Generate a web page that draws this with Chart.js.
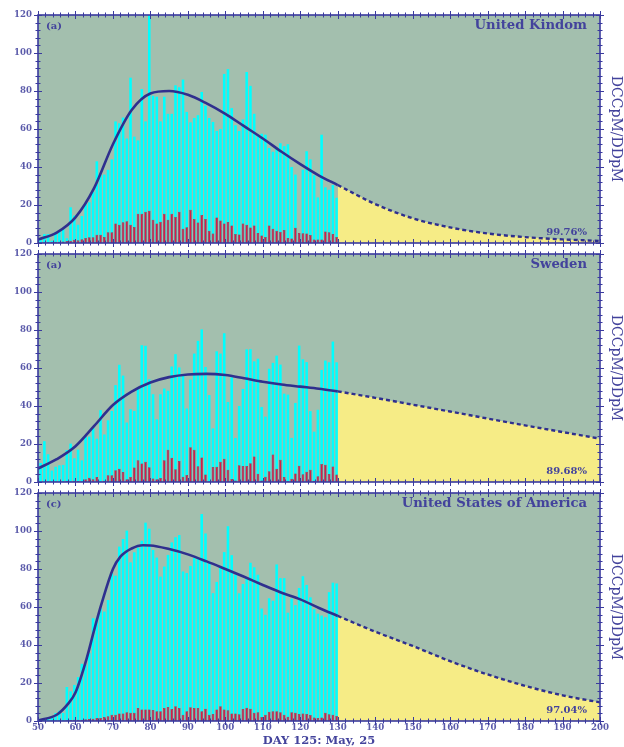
<!DOCTYPE html>
<html>
<head>
<meta charset="utf-8">
<script src="https://cdn.jsdelivr.net/npm/chart.js@4.4.1/dist/chart.umd.min.js"></script>
<style>
html,body{margin:0;padding:0;background:#ffffff;}
#wrap{position:relative;width:624px;height:747px;overflow:hidden;}
#wrap canvas{position:absolute;left:0;top:0;}
</style>
</head>
<body>
<div id="wrap">
<canvas id="c1" width="624" height="747"></canvas>
<canvas id="c2" width="624" height="747"></canvas>
<canvas id="c3" width="624" height="747"></canvas>
</div>
<script>
// ---------------- data ----------------
const days = [
  50,51,52,53,54,55,56,57,58,59,
  60,61,62,63,64,65,66,67,68,69,
  70,71,72,73,74,75,76,77,78,79,
  80,81,82,83,84,85,86,87,88,89,
  90,91,92,93,94,95,96,97,98,99,
  100,101,102,103,104,105,106,107,108,109,
  110,111,112,113,114,115,116,117,118,119,
  120,121,122,123,124,125,126,127,128,129,
  130];

// United Kingdom: DCCpM (cyan) and DDpM (red)
const ukCyan = [
  0.5, 1.5, 4.7, 4.7, 1.2, 5.4, 6, 7.7, 2.5, 18.8,
  14.4, 9.6, 14.2, 20.9, 21.4, 27, 43, 36, 36, 38.5,
  44, 64, 63, 66, 55, 87, 56, 54, 81, 64,
  120, 77.5, 77, 64, 77, 68, 68, 83, 82, 86,
  69, 63.5, 65.8, 67.3, 79.5, 72.3, 65.8, 63.7, 59, 60,
  89, 91.5, 71, 62, 59, 65, 90, 82.7, 68, 57,
  57.5, 57, 50, 48, 50.5, 52.5, 51, 52, 40, 36,
  5, 38.6, 48.3, 44, 35.6, 24, 57, 29.3, 28, 30.5,
  23.8];
const ukRed = [
  0, 0.3, 0.3, 0.4, 0.5, 0.7, 0.6, 0.8, 1, 1.2,
  1.7, 1.4, 2, 2.6, 3, 3, 4.4, 4.4, 3.2, 5.6,
  5.6, 10.2, 9.6, 10.9, 11.4, 9.6, 8.4, 15.4, 15.4, 16.5,
  17, 12.3, 10.2, 11.2, 15.4, 12.3, 15.4, 13.7, 16.5, 7.5,
  8.3, 17.5, 12.6, 10.8, 14.8, 12.6, 6.4, 5, 13.4, 11.8,
  10.2, 11.1, 9.2, 4.8, 4.5, 10.3, 9.6, 8.1, 9.2, 5.2,
  4, 3.2, 9.2, 7.5, 6.5, 5.9, 6.9, 2.6, 2.4, 8,
  5.3, 5.1, 5, 4.2, 1.8, 1.8, 1.9, 6, 5.6, 4.8,
  3.1];

// Sweden
const seCyan = [
  14.6, 10, 21.5, 14.6, 6, 8, 8.8, 9, 16.8, 20.2,
  12.5, 17, 11.4, 23.9, 23.9, 28.6, 22.8, 37.8, 25, 32.5,
  37.4, 51, 61.7, 56, 31.3, 38.3, 37.4, 48.9, 72, 71.7,
  54, 46.2, 33, 46.2, 49.2, 48, 60.8, 67.3, 60.3, 55.9,
  38.7, 53.9, 67.6, 74.3, 80.3, 60.5, 45.8, 28.2, 68.8, 67.6,
  78.3, 42.1, 55.1, 23.2, 40, 49, 69.8, 69.9, 63.5, 64.9,
  39.5, 34.4, 59.6, 62.7, 66.5, 61.8, 46.5, 46, 23.2, 41.6,
  71.8, 64.6, 63.1, 37.3, 26.5, 38, 59, 63.9, 63, 73.9,
  63];
const seRed = [
  0, 0, 0, 0.3, 0, 0.3, 0, 0.3, 0.5, 0.3,
  0.7, 0.5, 0.3, 1.4, 2.3, 1.4, 2.6, 0.2, 0.7, 3.5,
  3.5, 6.2, 7, 5.3, 1.4, 2.6, 7.6, 11.4, 9.7, 10.7,
  7.7, 1.8, 1.4, 2.1, 11.4, 17, 12.8, 6.7, 11, 2.8,
  3.7, 18.3, 17, 8.3, 12.9, 3.9, 0.3, 7.9, 8, 10.7,
  12.3, 6.5, 1.6, 0.8, 8.8, 8.4, 8.4, 9.9, 13.4, 4.3,
  0.8, 2.7, 5.6, 14.5, 7, 11.7, 2.6, 0.4, 1.7, 4.5,
  8.6, 4.1, 5.4, 6.5, 0.6, 3, 9.5, 9.1, 4.2, 8.1,
  4];

// United States of America
const usCyan = [
  0, 0.3, 0.7, 1.6, 2.5, 4.2, 5.4, 4.2, 17.9, 15.6,
  19, 23.1, 30.1, 29.6, 35.7, 54.1, 54.1, 59.4, 57.6, 63.7,
  77.8, 76.5, 91.8, 95.8, 100.2, 83.5, 88.8, 91.2, 94.9, 104.4,
  101.2, 90, 86, 76, 81.3, 87.4, 94, 96.7, 97.9, 78.7,
  77.9, 81.6, 85.7, 86, 108.9, 98.7, 83.1, 67.3, 73.2, 81.5,
  88.9, 102.5, 87.3, 77, 67.2, 72.1, 75.4, 83.3, 80.9, 77,
  59.2, 55.9, 64.6, 63.3, 82.4, 75.2, 75.2, 57, 64.4, 61,
  70, 76.2, 71.6, 65.1, 58.8, 56.5, 55.5, 54.6, 67.8, 72.8,
  72.4];
const usRed = [
  0, 0, 0.1, 0.1, 0.2, 0.2, 0.3, 0.3, 0.4, 0.5,
  0.6, 0.6, 0.7, 0.9, 1, 1.2, 1.6, 1.6, 2.1, 2.5,
  3.3, 3.3, 4, 4, 4.6, 4.4, 4.4, 6.8, 6, 6,
  6, 5.8, 5.1, 5.1, 6.8, 7.4, 6.3, 7.7, 6.8, 3.3,
  5.1, 7.2, 6.8, 6.8, 5.1, 6.5, 3.3, 3.7, 6.1, 7.7,
  6, 5.6, 4, 3.9, 3.5, 6.3, 7, 6.5, 4.4, 4.6,
  2.1, 3.3, 4.9, 5.1, 5.1, 4.6, 3.3, 2.3, 4.6, 4.4,
  3.7, 3.9, 3.7, 3.2, 1.9, 1.6, 1.9, 4.4, 3.5, 3.3,
  2.6];

// fitted curves (solid, to day 130) and projections (dashed, 130..200)
const fitDays   = [50,55,60,65,70,75,80,85,90,95,100,105,110,115,120,125,130];
const ukFit     = [1.8, 5.5, 13.5, 29, 52, 70, 78.7, 80, 78, 73.5, 68, 61.5, 55, 48, 41.5, 35.5, 30.5];
const seFit     = [7.1, 12, 18.8, 29.5, 40.5, 47.6, 52.4, 55.2, 56.6, 56.9, 56.3, 54.6, 52.8, 51.3, 50.2, 49.1, 47.7];
const usFitDays = [50,55,58,60,63,65,67,70,72,75,78,80,85,90,95,100,105,110,115,120,125,130];
const usFit     = [0.2, 3.3, 9, 15, 33, 48, 62, 80, 86.5, 90.8, 92.5, 92.4, 90.5, 87.7, 84, 80, 75.9, 71.6, 67.5, 64, 59.5, 55.3];
const projDays  = [130,140,150,160,170,180,190,200];
const ukProj    = [30.5, 20.5, 13, 8.2, 5, 3.1, 1.9, 1.1];
const seProj    = [47.7, 44.3, 40.7, 37.1, 33.4, 29.8, 26.3, 22.8];
const usProj    = [55.3, 47, 39.5, 31.5, 24.5, 18.5, 13.5, 9.8];

// tick labels and texts
const xTickValues = [50,60,70,80,90,100,110,120,130,140,150,160,170,180,190,200];
const yTickValues = [0,20,40,60,80,100,120];
const panelTags   = ['(a)', '(a)', '(c)'];
const countries   = ['United Kindom', 'Sweden', 'United States of America'];
const percents    = ['99.76%', '89.68%', '97.04%'];
const rightTitle  = 'DCCpM/DDpM';
const xTitle      = 'DAY 125: May, 25';

// ---------------- styling ----------------
const GREEN = '#a3bfae', YELLOW = '#f6ec86', CYAN = '#00ffff', RED = '#dc1a43';
const CURVE = '#2f2f8e', FRAME = '#3a3a9e', LABEL = '#5a5aaa', TEXT = '#43439c';
const SERIF = "'DejaVu Serif', serif";
const BAR_SHIFT = -0.3;
Chart.defaults.font.family = SERIF;
Chart.defaults.animation = false;

function pts(xs, ys, shift) { return xs.map((d, i) => ({x: d + (shift || 0), y: ys[i]})); }

const decor = {
  id: 'decor',
  beforeDraw(chart) {
    const a = chart.chartArea, ctx = chart.ctx;
    ctx.save();
    ctx.fillStyle = GREEN;
    ctx.fillRect(a.left, a.top, a.right - a.left, a.bottom - a.top);
    ctx.restore();
  },
  afterDraw(chart, args, o) {
    const a = chart.chartArea, ctx = chart.ctx, x = chart.scales.x, y = chart.scales.y;
    ctx.save();
    ctx.strokeStyle = FRAME;
    ctx.lineWidth = 1;
    const seg = (x1, y1, x2, y2) => { ctx.beginPath(); ctx.moveTo(x1, y1); ctx.lineTo(x2, y2); ctx.stroke(); };
    for (let v = 50; v <= 200; v += 2) {
      const px = Math.round(x.getPixelForValue(v)) + 0.5;
      const L = (v % 10 === 0) ? 4 : 2.5;
      seg(px, a.top - L, px, a.top + L);
      seg(px, a.bottom - L, px, a.bottom + L);
    }
    for (let v = 0; v <= 120; v += 4) {
      const py = Math.round(y.getPixelForValue(v)) + 0.5;
      const L = (v % 20 === 0) ? 4 : 2.5;
      seg(a.left - L, py, a.left + L, py);
      seg(a.right - L, py, a.right + L, py);
    }
    ctx.lineWidth = 1.6;
    ctx.strokeRect(a.left, a.top, a.right - a.left, a.bottom - a.top);

    ctx.fillStyle = TEXT;
    ctx.textBaseline = 'middle';
    ctx.font = 'bold 10px ' + SERIF;
    ctx.textAlign = 'left';
    ctx.fillText(o.tag, a.left + 8, a.top + 11);
    ctx.textAlign = 'right';
    ctx.fillText(o.pct, a.right - 13, a.bottom - 10.5);
    ctx.font = 'bold 13.2px ' + SERIF;
    ctx.fillText(o.country, a.right - 13, a.top + 11);
    ctx.restore();
  }
};

function makePanel(id, idx, cyan, red, fDays, fit, proj, padTop, padBottom, showX) {
  const tickFont = {family: SERIF, weight: 'bold', size: 8.6};
  return new Chart(document.getElementById(id), {
    type: 'bar',
    data: {
      datasets: [
        {type: 'line', data: pts(fDays, fit), borderColor: CURVE, borderWidth: 2.6,
         pointRadius: 0, cubicInterpolationMode: 'monotone', fill: false, order: 0},
        {type: 'line', data: pts(projDays, proj), borderColor: CURVE, borderWidth: 2.4,
         borderDash: [4, 3], pointRadius: 0, cubicInterpolationMode: 'monotone',
         fill: 'origin', backgroundColor: YELLOW, order: 0},
        {data: pts(days, red, BAR_SHIFT), backgroundColor: RED, borderColor: '#b01235',
         borderWidth: 0.5, grouped: false, barPercentage: 0.68, categoryPercentage: 1, order: 1},
        {data: pts(days, cyan, BAR_SHIFT), backgroundColor: CYAN, grouped: false,
         barPercentage: 0.68, categoryPercentage: 1, order: 2}
      ]
    },
    options: {
      responsive: false,
      animation: false,
      layout: {padding: {top: padTop, bottom: padBottom, left: 0, right: 0}},
      plugins: {legend: {display: false}, tooltip: {enabled: false},
                decor: {tag: panelTags[idx], country: countries[idx], pct: percents[idx]}},
      scales: {
        x: {type: 'linear', min: 50, max: 200, offset: false, display: showX,
            afterBuildTicks: s => { s.ticks = xTickValues.map(v => ({value: v})); },
            ticks: {color: LABEL, font: tickFont, padding: 2, maxRotation: 0, autoSkip: false},
            grid: {display: false, drawTicks: false}, border: {display: false},
            title: {display: showX, text: xTitle, color: TEXT,
                    font: {family: SERIF, weight: 'bold', size: 11.5}, padding: {top: 0, bottom: -1}},
            afterFit: s => { s.height = showX ? 26 : 0; }},
        y: {type: 'linear', min: 0, max: 120, position: 'left',
            afterBuildTicks: s => { s.ticks = yTickValues.map(v => ({value: v})); },
            ticks: {color: LABEL, font: tickFont, padding: 6},
            grid: {display: false, drawTicks: false}, border: {display: false},
            afterFit: s => { s.width = 38; }},
        yR: {type: 'linear', min: 0, max: 120, position: 'right',
             ticks: {display: false}, grid: {display: false, drawTicks: false}, border: {display: false},
             title: {display: true, text: rightTitle, color: TEXT,
                     font: {family: SERIF, size: 14}, padding: {top: 0, bottom: 0}},
             afterFit: s => { s.width = 24; }}
      }
    },
    plugins: [decor]
  });
}

makePanel('c1', 0, ukCyan, ukRed, fitDays, ukFit, ukProj, 15, 747 - 243, false);
makePanel('c2', 1, seCyan, seRed, fitDays, seFit, seProj, 254, 747 - 482, false);
makePanel('c3', 2, usCyan, usRed, usFitDays, usFit, usProj, 493, 0, true);
</script>
</body>
</html>
